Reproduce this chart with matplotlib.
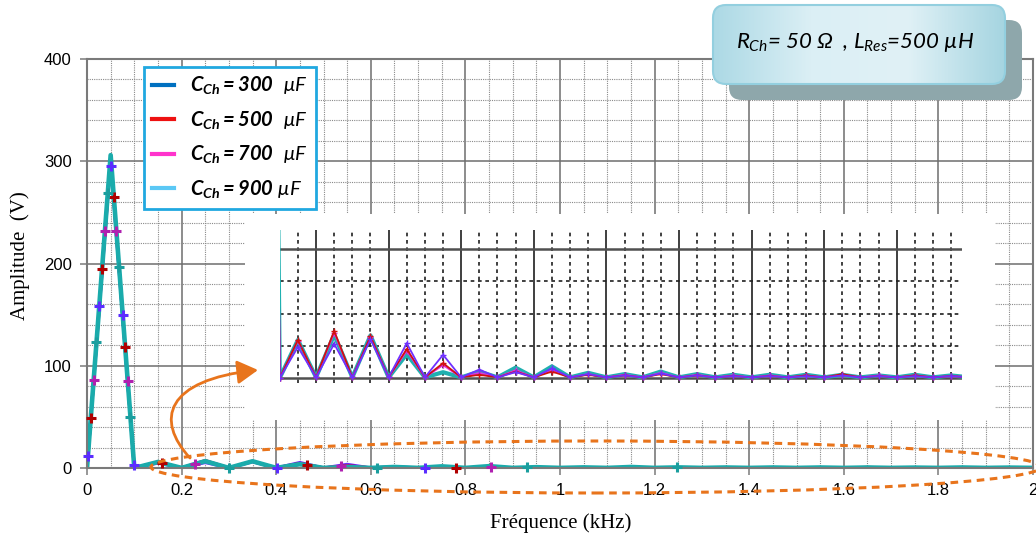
import numpy as np
import matplotlib
matplotlib.use('Agg')
import matplotlib.pyplot as plt
from matplotlib.lines import Line2D
from matplotlib.patches import Ellipse, FancyBboxPatch, FancyArrowPatch, Rectangle
from matplotlib.path import Path
from matplotlib.ticker import MultipleLocator, FixedLocator
from matplotlib.colors import LinearSegmentedColormap

plt.rcParams['mathtext.fontset'] = 'custom'
plt.rcParams['mathtext.rm'] = 'Lato:italic'
plt.rcParams['mathtext.it'] = 'Lato:italic'
plt.rcParams['mathtext.bf'] = 'Lato:bold'
plt.rcParams['mathtext.bfit'] = 'Lato:italic:bold'

# spectre harmonique (kHz / V)
freq_khz = [0.00, 0.05, 0.10, 0.15, 0.20, 0.25, 0.30, 0.35, 0.40, 0.45,
            0.50, 0.55, 0.60, 0.65, 0.70, 0.75, 0.80, 0.85, 0.90, 0.95,
            1.00, 1.05, 1.10, 1.15, 1.20, 1.25, 1.30, 1.35, 1.40, 1.45,
            1.50, 1.55, 1.60, 1.65, 1.70, 1.75, 1.80, 1.85, 1.90, 1.95, 2.00]
amp_300 = [0, 300, 0, 4.8, 0.1, 5.3, 0.1, 6.0, 0.1, 5.4, 0.1, 3.6, 0.1, 1.3, 0.1, 0.9,
           0.1, 1.5, 0.1, 0.6, 0.1, 0.4, 0.1, 0.7, 0.1, 0.4, 0.1, 0.3, 0.1, 0.3, 0.1,
           0.3, 0.1, 0.4, 0.1, 0.3, 0.1, 0.3, 0.1, 0.3, 0.1]
amp_500 = [0, 303, 0, 5.9, 0.1, 7.3, 0.1, 6.5, 0.1, 4.5, 0.1, 2.3, 0.1, 0.5, 0.1, 1.0,
           0.1, 1.0, 0.1, 0.5, 0.1, 0.4, 0.1, 0.6, 0.1, 0.4, 0.1, 0.3, 0.1, 0.3, 0.1,
           0.4, 0.1, 0.6, 0.1, 0.3, 0.1, 0.4, 0.1, 0.3, 0.1]
amp_700 = [0, 305, 0, 5.8, 0.1, 7.0, 0.1, 6.4, 0.1, 4.2, 0.1, 2.0, 0.1, 0.8, 0.1, 1.2,
           0.1, 1.3, 0.1, 0.6, 0.1, 0.5, 0.1, 0.8, 0.1, 0.5, 0.1, 0.4, 0.1, 0.4, 0.1,
           0.4, 0.1, 0.5, 0.1, 0.4, 0.1, 0.4, 0.1, 0.3, 0.1]
amp_900 = [0, 306, 0, 5.9, 0.1, 6.7, 0.1, 6.6, 0.1, 3.7, 0.1, 0.9, 0.1, 1.0, 0.1, 1.6,
           0.1, 1.8, 0.1, 0.8, 0.1, 0.6, 0.1, 1.0, 0.1, 0.6, 0.1, 0.5, 0.1, 0.5, 0.1,
           0.5, 0.1, 0.5, 0.1, 0.4, 0.1, 0.5, 0.1, 0.4, 0.1]
series = [amp_300, amp_500, amp_700, amp_900]

leg_labels = [r'$\mathbfit{C_{Ch}=300}\ \ \mathit{\mu F}$',
              r'$\mathbfit{C_{Ch}=500}\ \ \mathit{\mu F}$',
              r'$\mathbfit{C_{Ch}=700}\ \ \mathit{\mu F}$',
              r'$\mathbfit{C_{Ch}=900}\ \mathit{\mu F}$']
x_tick_labels = ['0', '0.2', '0.4', '0.6', '0.8', '1', '1.2', '1.4', '1.6', '1.8', '2']
box_text = r'$R_{Ch}$= 50 Ω  , $L_{Res}$=500 µH'

line_colors = ['#6a2cff', '#c00000', '#c030c0', '#1aabab']
mark_colors = ['#5b2cff', '#b00000', '#b020b0', '#1a9e9e']
leg_colors = ['#0070c0', '#ee1111', '#ff33cc', '#5bc8f5']
orange = '#e8741c'


def along_line(ax, xs, ys, start, step, count):
    # marqueurs espaces le long de la courbe (en pixels), comme dans l'original
    pts = ax.transData.transform(np.column_stack([xs, ys]))
    cum = np.concatenate([[0], np.cumsum(np.hypot(*np.diff(pts, axis=0).T))])
    s = start + step * np.arange(count)
    s = s[s <= cum[-1]]
    p = np.column_stack([np.interp(s, cum, pts[:, 0]), np.interp(s, cum, pts[:, 1])])
    return ax.transData.inverted().transform(p).T


fig = plt.figure(figsize=(10.36, 5.36), dpi=100)
px = fig.dpi_scale_trans  # pouces

ax = fig.add_axes([87 / 1036, 1 - 468 / 536, 946 / 1036, 409 / 536])
ax.set_xlim(0, 2)
ax.set_ylim(0, 400)
ax.xaxis.set_major_locator(MultipleLocator(0.2))
ax.xaxis.set_minor_locator(MultipleLocator(0.05))
ax.yaxis.set_major_locator(MultipleLocator(100))
ax.yaxis.set_minor_locator(MultipleLocator(20))
ax.set_xticks(np.linspace(0, 2, 11), x_tick_labels)
ax.grid(which='major', color='#6e6e6e', lw=1.1, ls='-')
ax.grid(which='minor', color='#8a8a8a', lw=0.8, ls=(0, (1, 1)))
ax.set_axisbelow(True)
ax.tick_params(which='major', direction='out', length=5, width=1.1, color='#7a7a7a',
               labelsize=12, pad=6)
ax.tick_params(which='minor', length=0)
for lab in ax.get_xticklabels() + ax.get_yticklabels():
    lab.set_family('Liberation Sans')
for sp in ax.spines.values():
    sp.set_color('#7a7a7a')
    sp.set_linewidth(1.5)

for i, vals in enumerate(series):
    ax.plot(freq_khz, vals, color=line_colors[i], lw=3.3 if i == 3 else 2.2, zorder=2)

starts = [12, 50, 88, 126]
counts = [7, 7, 7, 8]
for i, vals in enumerate(series):
    mx, my = along_line(ax, freq_khz, vals, starts[i], 150, counts[i])
    ax.plot(mx, my, ls='none', marker='+', ms=7.5, mew=2.2, color=mark_colors[i],
            zorder=3, clip_on=False)

handles = [Line2D([], [], color=c, lw=3) for c in leg_colors]
leg = ax.legend(handles, leg_labels, loc='upper left',
                bbox_to_anchor=(144 / 1036, 1 - 67 / 536), bbox_transform=fig.transFigure,
                fancybox=False, framealpha=1, edgecolor='#20a8e0', fontsize=14.5,
                handlelength=1.1, handletextpad=0.8, labelspacing=0.6,
                borderpad=0.4, borderaxespad=0)
leg.get_frame().set_linewidth(2)
leg.set_zorder(10)

fig.text(561 / 1036, 1 - 523 / 536, 'Fréquence (kHz)', family='Liberation Serif',
         fontsize=15, ha='center', va='center')
fig.text(20 / 1036, 1 - 256 / 536, 'Amplitude  (V)', family='Liberation Serif',
         fontsize=15, ha='center', va='center', rotation=90)

# zoom (fond blanc + petit graphe)
fig.patches.append(Rectangle((2.45, 1.16), 7.5, 2.06, transform=px, facecolor='white',
                             edgecolor='none', zorder=1))
iax = fig.add_axes([279.5 / 1036, 1 - 383 / 536, (962 - 279.5) / 1036, 153 / 536], zorder=2)
iax.patch.set_alpha(0)
iax.set_xlim(0.0993, 1.98)
iax.set_ylim(-0.775, 22.95)
iax.xaxis.set_major_locator(MultipleLocator(0.2))
iax.xaxis.set_minor_locator(FixedLocator(np.arange(0.15, 1.97, 0.05)))
iax.yaxis.set_major_locator(FixedLocator([0, 20]))
iax.yaxis.set_minor_locator(FixedLocator([5, 10, 15]))
iax.grid(which='major', axis='x', color='#303030', lw=1.3, ls='-')
iax.grid(which='minor', color='#202020', lw=1.2, ls=(0, (2.2, 2.2)))
iax.grid(which='major', axis='y', color='#505050', lw=1.8, ls='-')
iax.tick_params(which='both', length=0, labelbottom=False, labelleft=False)
for sp in iax.spines.values():
    sp.set_visible(False)
iax.plot(freq_khz, amp_900, color='#1fb0b0', lw=3.0)
iax.plot(freq_khz, amp_700, color='#e030e0', lw=1.3, marker='+', ms=4)
iax.plot(freq_khz, amp_500, color='#d01010', lw=1.3, marker='+', ms=4)
iax.plot(freq_khz, amp_300, color='#7030ff', lw=1.3, marker='+', ms=4)

# ellipse et fleche orange
fig.patches.append(Ellipse((5.96, 0.69), 8.9, 0.52, transform=px, fill=False,
                           edgecolor=orange, lw=2.2, ls=(0, (2.5, 1.8)), zorder=3))
verts = [(1.90, 0.78), (1.55, 1.16), (1.65, 1.56), (2.58, 1.66)]
arrow = FancyArrowPatch(path=Path(verts, [Path.MOVETO, Path.CURVE4, Path.CURVE4, Path.CURVE4]),
                        arrowstyle='-|>,head_length=0.7,head_width=0.4', mutation_scale=18,
                        color=orange, lw=2, transform=px, zorder=3)
fig.patches.append(arrow)

# cartouche R, L
shadow = FancyBboxPatch((7.29, 4.36), 2.93, 0.80, boxstyle='round,pad=0,rounding_size=0.13',
                        transform=px, facecolor='#8ea7ab', edgecolor='none', zorder=4)
fig.patches.append(shadow)
box = FancyBboxPatch((7.13, 4.52), 2.92, 0.79, boxstyle='round,pad=0,rounding_size=0.13',
                     transform=px, facecolor='none', edgecolor='#93cfdf', lw=1.5, zorder=6)
bax = fig.add_axes([713 / 1036, 1 - 84 / 536, 292 / 1036, 79 / 536], zorder=5)
bax.axis('off')
cmap = LinearSegmentedColormap.from_list('box', ['#acd9e5', '#dbeff5', '#e0f1f6', '#a6d5e1'])
grad = np.tile(np.linspace(0, 1, 200), (20, 1))
im = bax.imshow(grad, aspect='auto', extent=[0, 1, 0, 1], cmap=cmap)
im.set_clip_path(box)
fig.patches.append(box)
fig.text(855 / 1036, 1 - 42 / 536, box_text, family='Lato', style='italic',
         fontsize=16, ha='center', va='center', zorder=7)

fig.savefig('out.png', dpi=100)
